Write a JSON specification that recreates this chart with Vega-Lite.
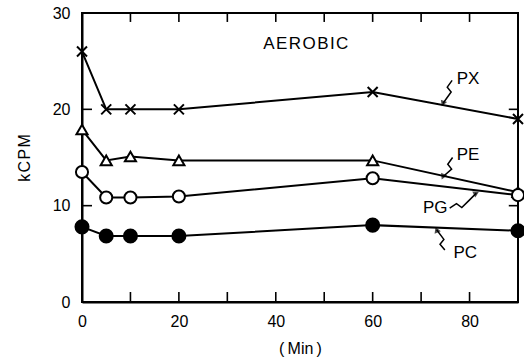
{
  "$schema": "https://vega.github.io/schema/vega-lite/v6.json",
  "width": 436,
  "height": 289,
  "autosize": "none",
  "padding": {"left": 82, "top": 13, "right": 6, "bottom": 58},
  "background": "white",
  "config": {
    "font": "Liberation Sans",
    "view": {"stroke": "black", "strokeWidth": 2},
    "axis": {
      "grid": false,
      "domainColor": "black",
      "labelFlush": false,
      "labelFontSize": 16,
      "labelColor": "black",
      "titleFontSize": 16,
      "titleFontWeight": "normal",
      "titleColor": "black"
    }
  },
  "datasets": {
    "series": [
      {"series": "PX", "min": 0, "kcpm": 26.0},
      {"series": "PX", "min": 5, "kcpm": 20.0},
      {"series": "PX", "min": 10, "kcpm": 20.0},
      {"series": "PX", "min": 20, "kcpm": 20.0},
      {"series": "PX", "min": 60, "kcpm": 21.8},
      {"series": "PX", "min": 90, "kcpm": 19.0},
      {"series": "PE", "min": 0, "kcpm": 17.9},
      {"series": "PE", "min": 5, "kcpm": 14.7},
      {"series": "PE", "min": 10, "kcpm": 15.1},
      {"series": "PE", "min": 20, "kcpm": 14.7},
      {"series": "PE", "min": 60, "kcpm": 14.7},
      {"series": "PE", "min": 90, "kcpm": 11.4},
      {"series": "PG", "min": 0, "kcpm": 13.5},
      {"series": "PG", "min": 5, "kcpm": 10.85},
      {"series": "PG", "min": 10, "kcpm": 10.85},
      {"series": "PG", "min": 20, "kcpm": 10.95},
      {"series": "PG", "min": 60, "kcpm": 12.85},
      {"series": "PG", "min": 90, "kcpm": 11.1},
      {"series": "PC", "min": 0, "kcpm": 7.8},
      {"series": "PC", "min": 5, "kcpm": 6.85},
      {"series": "PC", "min": 10, "kcpm": 6.85},
      {"series": "PC", "min": 20, "kcpm": 6.85},
      {"series": "PC", "min": 60, "kcpm": 7.98},
      {"series": "PC", "min": 90, "kcpm": 7.4}
    ],
    "xticks": [{"t": 10}, {"t": 20}, {"t": 30}, {"t": 40}, {"t": 50}, {"t": 60}, {"t": 70}, {"t": 80}],
    "yticks": [{"t": 10}, {"t": 20}],
    "labels": [
      {"text": "PX", "min": 79.7, "kcpm": 23.2},
      {"text": "PE", "min": 79.7, "kcpm": 15.3},
      {"text": "PG", "min": 72.9, "kcpm": 9.75},
      {"text": "PC", "min": 79.1, "kcpm": 5.1},
      {"text": "A\u200aE\u200aR\u200aO\u200aB\u200aI\u200aC", "min": 46.2, "kcpm": 26.8}
    ],
    "arrows": [
      {"arrow": "PX", "order": 1, "min": 76.4, "kcpm": 23.0},
      {"arrow": "PX", "order": 2, "min": 75.4, "kcpm": 22.3},
      {"arrow": "PX", "order": 3, "min": 76.2, "kcpm": 21.8},
      {"arrow": "PX", "order": 4, "min": 74.5, "kcpm": 20.6},
      {"arrow": "PE", "order": 1, "min": 76.5, "kcpm": 15.0},
      {"arrow": "PE", "order": 2, "min": 75.5, "kcpm": 14.3},
      {"arrow": "PE", "order": 3, "min": 76.3, "kcpm": 13.8},
      {"arrow": "PE", "order": 4, "min": 74.5, "kcpm": 13.0},
      {"arrow": "PG", "order": 1, "min": 75.9, "kcpm": 9.75},
      {"arrow": "PG", "order": 2, "min": 77.3, "kcpm": 10.2},
      {"arrow": "PG", "order": 3, "min": 78.4, "kcpm": 9.8},
      {"arrow": "PG", "order": 4, "min": 79.8, "kcpm": 10.5},
      {"arrow": "PG", "order": 5, "min": 81.4, "kcpm": 11.3},
      {"arrow": "PC", "order": 1, "min": 74.9, "kcpm": 5.4},
      {"arrow": "PC", "order": 2, "min": 73.9, "kcpm": 6.0},
      {"arrow": "PC", "order": 3, "min": 74.7, "kcpm": 6.5},
      {"arrow": "PC", "order": 4, "min": 73.2, "kcpm": 7.5}
    ]
  },
  "resolve": {"axis": {"x": "independent", "y": "independent"}},
  "layer": [
    {
      "data": {"name": "series"},
      "mark": {"type": "line", "color": "black", "strokeWidth": 2},
      "encoding": {
        "x": {"field": "min", "type": "quantitative", "scale": {"domain": [0, 90], "nice": false},
          "axis": {"orient": "bottom", "values": [0, 20, 40, 60, 80], "ticks": false, "domainWidth": 2, "labelPadding": 11,
            "title": "(\u2009Min\u2009)", "titlePadding": 11}},
        "y": {"field": "kcpm", "type": "quantitative", "scale": {"domain": [0, 30], "nice": false},
          "axis": {"orient": "left", "values": [0, 10, 20, 30], "ticks": false, "domainWidth": 2, "labelPadding": 12,
            "title": "k\u200aC\u200aP\u200aM", "titlePadding": 20}},
        "detail": {"field": "series"}
      }
    },
    {
      "layer": [
        {
          "data": {"name": "xticks"},
          "mark": {"type": "rule", "color": "black", "strokeWidth": 1.6},
          "encoding": {
            "x": {"field": "t", "type": "quantitative"},
            "y": {"datum": 0, "type": "quantitative"},
            "y2": {"datum": 1.04}
          }
        },
        {
          "data": {"name": "xticks"},
          "mark": {"type": "rule", "color": "black", "strokeWidth": 1.6},
          "encoding": {
            "x": {"field": "t", "type": "quantitative"},
            "y": {"datum": 30, "type": "quantitative"},
            "y2": {"datum": 29.07}
          }
        },
        {
          "data": {"name": "yticks"},
          "mark": {"type": "rule", "color": "black", "strokeWidth": 1.6},
          "encoding": {
            "y": {"field": "t", "type": "quantitative"},
            "x": {"datum": 0, "type": "quantitative"},
            "x2": {"datum": 2.06}
          }
        },
        {
          "data": {"name": "yticks"},
          "mark": {"type": "rule", "color": "black", "strokeWidth": 1.6},
          "encoding": {
            "y": {"field": "t", "type": "quantitative"},
            "x": {"datum": 90, "type": "quantitative"},
            "x2": {"datum": 88.1}
          }
        },
        {
          "data": {"name": "series"},
          "mark": {"type": "point", "filled": true, "stroke": "black", "strokeWidth": 2, "opacity": 1},
          "encoding": {
            "x": {"field": "min", "type": "quantitative"},
            "y": {"field": "kcpm", "type": "quantitative"},
            "shape": {"field": "series", "type": "nominal", "legend": null,
              "scale": {"domain": ["PX", "PE", "PG", "PC"], "range": ["M-1,-1L1,1M-1,1L1,-1", "triangle-up", "circle", "circle"]}},
            "fill": {"field": "series", "type": "nominal", "legend": null,
              "scale": {"domain": ["PX", "PE", "PG", "PC"], "range": ["white", "white", "white", "black"]}},
            "size": {"field": "series", "type": "nominal", "legend": null,
              "scale": {"domain": ["PX", "PE", "PG", "PC"], "range": [100, 170, 50, 45]}}
          }
        },
        {
          "data": {"name": "arrows"},
          "mark": {"type": "line", "color": "black", "strokeWidth": 1.5},
          "encoding": {
            "x": {"field": "min", "type": "quantitative"},
            "y": {"field": "kcpm", "type": "quantitative"},
            "detail": {"field": "arrow"},
            "order": {"field": "order"}
          }
        },
        {
          "data": {"name": "arrows"},
          "transform": [{"filter": "datum.order === 4 && datum.arrow === 'PX'"}],
          "mark": {"type": "point", "shape": "triangle-up", "filled": true, "color": "black", "size": 45, "angle": 201},
          "encoding": {
            "x": {"field": "min", "type": "quantitative"},
            "y": {"field": "kcpm", "type": "quantitative"}
          }
        },
        {
          "data": {"name": "arrows"},
          "transform": [{"filter": "datum.order === 4 && datum.arrow === 'PE'"}],
          "mark": {"type": "point", "shape": "triangle-up", "filled": true, "color": "black", "size": 45, "angle": 205},
          "encoding": {
            "x": {"field": "min", "type": "quantitative"},
            "y": {"field": "kcpm", "type": "quantitative"}
          }
        },
        {
          "data": {"name": "arrows"},
          "transform": [{"filter": "datum.order === 5 && datum.arrow === 'PG'"}],
          "mark": {"type": "point", "shape": "triangle-up", "filled": true, "color": "black", "size": 45, "angle": 63},
          "encoding": {
            "x": {"field": "min", "type": "quantitative"},
            "y": {"field": "kcpm", "type": "quantitative"}
          }
        },
        {
          "data": {"name": "arrows"},
          "transform": [{"filter": "datum.order === 4 && datum.arrow === 'PC'"}],
          "mark": {"type": "point", "shape": "triangle-up", "filled": true, "color": "black", "size": 45, "angle": 338},
          "encoding": {
            "x": {"field": "min", "type": "quantitative"},
            "y": {"field": "kcpm", "type": "quantitative"}
          }
        },
        {
          "data": {"name": "labels"},
          "mark": {"type": "text", "fontSize": 17, "color": "black", "align": "center", "baseline": "middle"},
          "encoding": {
            "x": {"field": "min", "type": "quantitative"},
            "y": {"field": "kcpm", "type": "quantitative"},
            "text": {"field": "text"}
          }
        }
      ],
      "encoding": {
        "x": {"axis": {"orient": "bottom", "labels": false, "ticks": false, "domain": false, "title": null}},
        "y": {"axis": {"orient": "left", "labels": false, "ticks": false, "domain": false, "title": null}}
      }
    }
  ]
}
